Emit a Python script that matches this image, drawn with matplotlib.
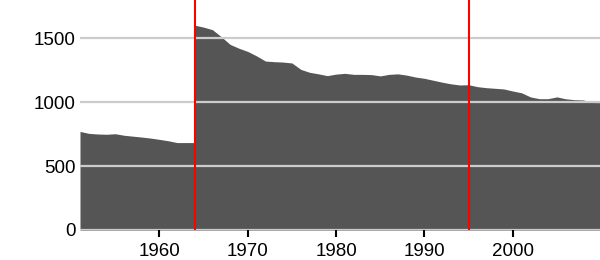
import matplotlib
matplotlib.use("Agg")
import matplotlib.pyplot as plt

# yearly values; 1964 appears twice because the series jumps there
years = [1951, 1952, 1953, 1954, 1955, 1956, 1957, 1958, 1959, 1960,
         1961, 1962, 1963, 1964, 1964, 1965, 1966, 1967, 1968, 1969,
         1970, 1971, 1972, 1973, 1974, 1975, 1976, 1977, 1978, 1979,
         1980, 1981, 1982, 1983, 1984, 1985, 1986, 1987, 1988, 1989,
         1990, 1991, 1992, 1993, 1994, 1995, 1996, 1997, 1998, 1999,
         2000, 2001, 2002, 2003, 2004, 2005, 2006, 2007, 2008, 2009,
         2010]
values = [770, 755, 750, 748, 752, 740, 733, 726, 718, 708,
          697, 683, 683, 683, 1600, 1585, 1565, 1510, 1450, 1420,
          1395, 1360, 1320, 1315, 1312, 1305, 1255, 1232, 1220, 1206,
          1218, 1224, 1216, 1216, 1214, 1204, 1216, 1220, 1210, 1195,
          1185, 1170, 1155, 1142, 1133, 1135, 1120, 1112, 1107, 1102,
          1086, 1072, 1040, 1026, 1026, 1040, 1025, 1018, 1016, 996,
          995]
marker_years = [1964, 1995]
y_ticks = [0, 500, 1000, 1500]
x_ticks = [1960, 1970, 1980, 1990, 2000]

plt.rcParams['font.family'] = ['Liberation Sans', 'DejaVu Sans']

fig = plt.figure(figsize=(6, 2.6), dpi=100)
ax = fig.add_axes([80 / 600, 30 / 260, 521 / 600, 230 / 260])

ax.fill_between(years, values, 0, color="#555555", linewidth=0, zorder=1)
for yr in marker_years:
    ax.axvline(yr, color="red", linewidth=1.5, zorder=5)

ax.set_xlim(1951, 2010)
ax.set_ylim(0, 1797)
ax.set_yticks(y_ticks)
ax.set_xticks(x_ticks)

ax.set_axisbelow(False)
ax.yaxis.grid(True, color="#cccccc", linewidth=1.6, zorder=3)
ax.xaxis.grid(False)

for s in ax.spines.values():
    s.set_visible(False)

ax.tick_params(axis="y", length=0, pad=3, labelsize=13.5)
ax.tick_params(axis="x", length=5, width=1.5, color="black", pad=4.5, labelsize=13.5)

fig.savefig("out.png", dpi=100)
